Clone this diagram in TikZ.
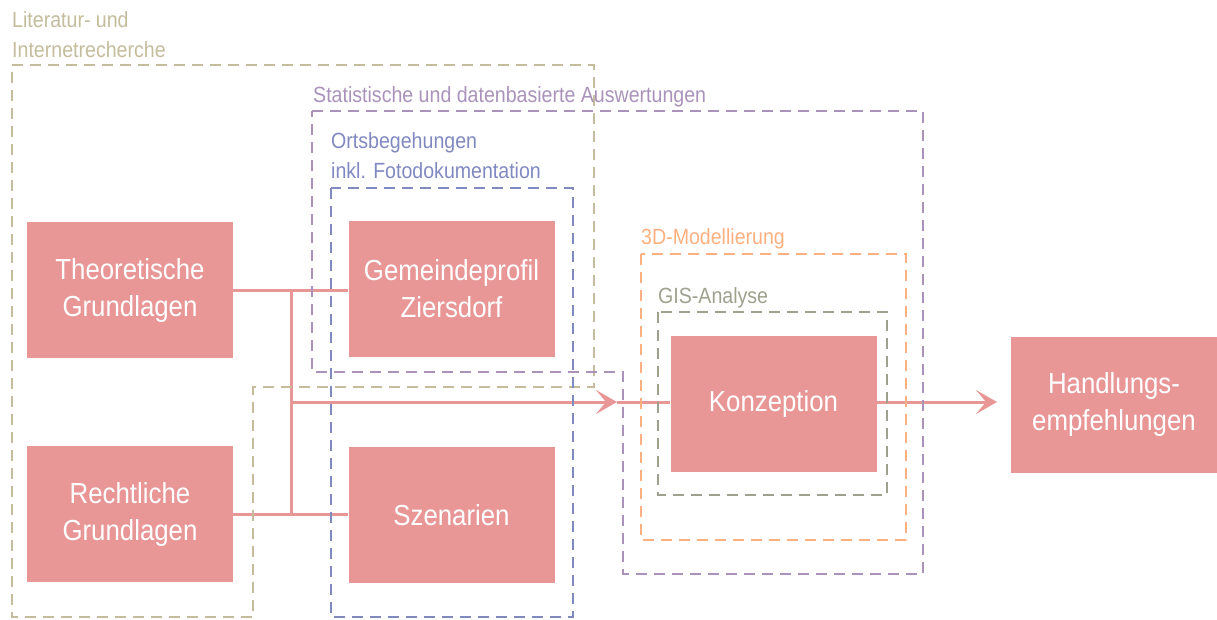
\documentclass[tikz,border=0pt]{standalone}
\usepackage{fontspec}
\setmainfont{Liberation Sans}[FakeStretch=0.89]
\usetikzlibrary{arrows.meta}

\definecolor{boxred}{RGB}{232,150,150}
\definecolor{litcol}{RGB}{196,188,156}
\definecolor{statcol}{RGB}{170,146,186}
\definecolor{ortcol}{RGB}{128,137,192}
\definecolor{modcol}{RGB}{255,176,128}
\definecolor{giscol}{RGB}{158,161,141}

\begin{document}
\begin{tikzpicture}[x=1pt, y=-1pt,
    block/.style={fill=boxred, text=white, minimum width=206pt, minimum height=136pt,
        align=center, inner sep=0pt, font=\fontsize{29}{37}\selectfont},
    area/.style={dash pattern=on 11pt off 7pt, line width=2pt},
    tag/.style={anchor=base west, align=left, inner sep=0pt, font=\fontsize{22}{30}\selectfont},
    link/.style={draw=boxred, line width=3pt},
    tip/.style={-{Stealth[length=21pt, width=24pt, inset=10pt]}}]
    \useasboundingbox (0,0) rectangle (1217,619);

    % work steps
    \node[block] (theo) at (130,290) {Theoretische\\Grundlagen};
    \node[block] (recht) at (130,514) {Rechtliche\\Grundlagen};
    \node[block] (gem) at (451.5,289) {Gemeindeprofil\\Ziersdorf};
    \node[block] (szen) at (451.5,515) {Szenarien};
    \node[block] (konz) at (773.5,404) {Konzeption};
    \node[block] (handl) at (1114,404.5) {Handlungs-\\empfehlungen};

    % connectors
    \coordinate (split) at (291,402);
    \coordinate (mid) at (617,402);
    \draw[link] (theo.east |- 0,290) -- (gem.west |- 0,290);
    \draw[link] (recht.east |- 0,514) -- (szen.west |- 0,514);
    \draw[link] (split |- 0,290) -- (split |- 0,514);
    \draw[link, tip] (split) -- (mid);
    \draw[link] (mid) -- (konz.west |- mid);
    \draw[link, tip] (konz.east |- mid) -- (997,402) coordinate (end);

    % methods
    \draw[area, litcol] (12,65) -- (594,65) -- (594,387) -- (253,387) -- (253,617) -- (12,617) -- cycle;
    \node[tag, text=litcol] (lit) at (12,57) {Literatur- und\\Internetrecherche};
    \draw[area, statcol] (312,111) -- (923,111) -- (923,574) -- (623,574) -- (623,372) -- (312,372) -- cycle;
    \node[tag, text=statcol] (stat) at (313,102) {Statistische und datenbasierte Auswertungen};
    \draw[area, ortcol] (331,188) rectangle (573,617);
    \node[tag, text=ortcol] (ort) at (331,178) {Ortsbegehungen\\inkl. Fotodokumentation};
    \draw[area, modcol] (641,254) rectangle (906,540);
    \node[tag, text=modcol] (mod) at (641,244) {3D-Modellierung};
    \draw[area, giscol] (658,312) rectangle (887,495);
    \node[tag, text=giscol] (gis) at (658,303) {GIS-Analyse};
\end{tikzpicture}
\end{document}
